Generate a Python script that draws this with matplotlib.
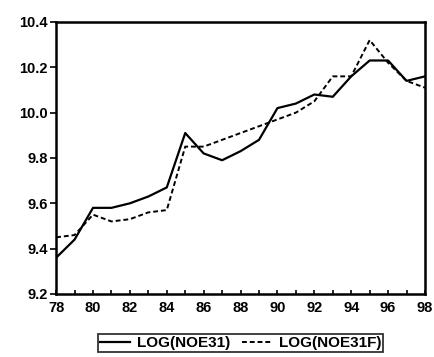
import matplotlib
matplotlib.use("Agg")
import matplotlib.pyplot as plt
from matplotlib.ticker import MultipleLocator, FormatStrFormatter

plt.rcParams["font.family"] = ["Liberation Sans Narrow", "Liberation Sans", "DejaVu Sans"]

years = list(range(1978, 1999))
noe31 = [9.36, 9.44, 9.58, 9.58, 9.60, 9.63, 9.67, 9.91, 9.82, 9.79, 9.83,
         9.88, 10.02, 10.04, 10.08, 10.07, 10.16, 10.23, 10.23, 10.14, 10.16]
noe31f = [9.45, 9.46, 9.55, 9.52, 9.53, 9.56, 9.57, 9.85, 9.85, 9.88, 9.91,
          9.94, 9.97, 10.00, 10.05, 10.16, 10.16, 10.32, 10.22, 10.14, 10.11]
xtick_years = list(range(1978, 1999, 2))
xtick_labels = [str(y % 100) for y in xtick_years]

fig = plt.figure(figsize=(4.35, 3.57), dpi=100)
ax = fig.add_axes([0.129, 0.1765, 0.848, 0.762])

ax.plot(years, noe31, color="black", lw=1.6, label="LOG(NOE31)")
ax.plot(years, noe31f, color="black", lw=1.4, ls=(0, (2.5, 1.5)), label="LOG(NOE31F)")

ax.set_xlim(1978, 1998)
ax.set_ylim(9.2, 10.4)
ax.set_xticks(xtick_years)
ax.set_xticklabels(xtick_labels)
ax.xaxis.set_minor_locator(MultipleLocator(1))
ax.yaxis.set_major_locator(MultipleLocator(0.2))
ax.yaxis.set_major_formatter(FormatStrFormatter("%.1f"))

for s in ax.spines.values():
    s.set_linewidth(1.8)
ax.tick_params(axis="y", direction="out", length=4, width=1.2, labelsize=10.5, pad=2)
ax.tick_params(axis="x", which="both", direction="in", length=3, width=1.2, labelsize=10.5, pad=5)
for lab in ax.get_xticklabels() + ax.get_yticklabels():
    lab.set_fontweight("bold")

leg = fig.legend(loc="lower center", bbox_to_anchor=(0.553, -0.008), ncol=2,
                 frameon=True, fancybox=False, edgecolor="black",
                 handlelength=2.0, handletextpad=0.4, columnspacing=0.8,
                 borderpad=0.15, prop={"size": 11, "weight": "bold"})
leg.get_frame().set_linewidth(1.3)

fig.savefig("out.png", dpi=100)
